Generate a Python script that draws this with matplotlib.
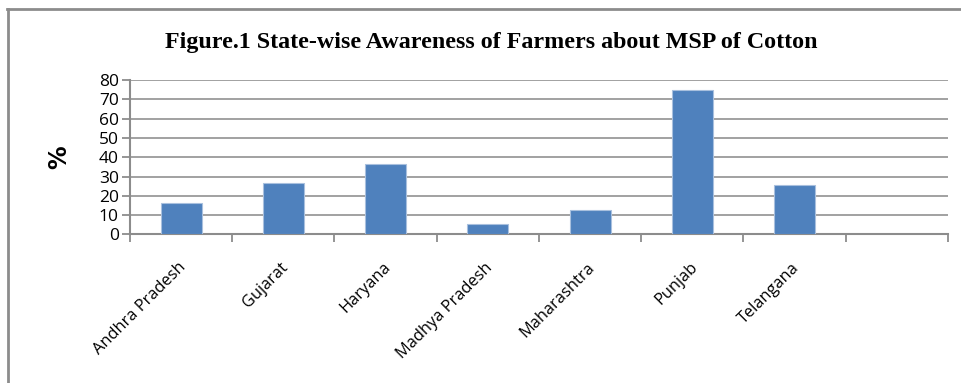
import numpy as np
import matplotlib.pyplot as plt
from matplotlib.lines import Line2D

states = ['Andhra Pradesh', 'Gujarat', 'Haryana', 'Madhya Pradesh',
          'Maharashtra', 'Punjab', 'Telangana']
aware_pct = [16.4, 26.4, 36.3, 5.3, 12.6, 74.8, 25.6]
y_ticks = [0, 10, 20, 30, 40, 50, 60, 70, 80]

BAR_COLOR = '#4f81bd'
GRID_COLOR = '#9a9a9a'

fig = plt.figure(figsize=(9.62, 3.83), dpi=100)
ax = fig.add_axes([0.1351, 0.388, 0.8503, 0.403])

x = np.arange(len(states))
ax.bar(x, aware_pct, width=0.4, color=BAR_COLOR, edgecolor='#a9c0de',
       linewidth=0.8, zorder=3)

# one empty slot on the right, like the source chart
ax.set_xlim(-0.5, len(states) + 0.5)
ax.set_ylim(0, 80)
ax.set_yticks(y_ticks)
ax.yaxis.grid(True, color=GRID_COLOR, linewidth=1.3, zorder=0)

# ticks sit between categories
ax.set_xticks(np.arange(len(states) + 2) - 0.5)
ax.set_xticklabels([])
for i, s in enumerate(states):
    ax.text(i - 0.03, -13, s, rotation=45, ha='right', va='top',
            rotation_mode='anchor', fontsize=11.8, family='Open Sans',
            transform=ax.transData)

for side in ['top', 'right']:
    ax.spines[side].set_visible(False)
for side in ['left', 'bottom']:
    ax.spines[side].set_color('#8c8c8c')
    ax.spines[side].set_linewidth(1.5)
ax.tick_params(axis='both', color='#8c8c8c', width=1.3, length=6)
ax.tick_params(axis='y', labelsize=12.5, pad=2)
for lab in ax.get_yticklabels():
    lab.set_family('Open Sans')

ax.set_ylabel('%', fontsize=17, fontweight='bold', family='DejaVu Sans',
              labelpad=20)

fig.text(0.511, 0.89, 'Figure.1 State-wise Awareness of Farmers about MSP of Cotton',
         ha='center', va='center', fontsize=17.3, fontweight='bold',
         family='Liberation Serif')

# frame of the chart area (left and top edges visible)
fig.add_artist(Line2D([0.008, 0.008], [0.0, 0.976], color='#8c8c8c',
                      linewidth=2, transform=fig.transFigure))
fig.add_artist(Line2D([0.007, 1.0], [0.976, 0.976], color='#8c8c8c',
                      linewidth=2, transform=fig.transFigure))

fig.savefig('out.png', dpi=100)
